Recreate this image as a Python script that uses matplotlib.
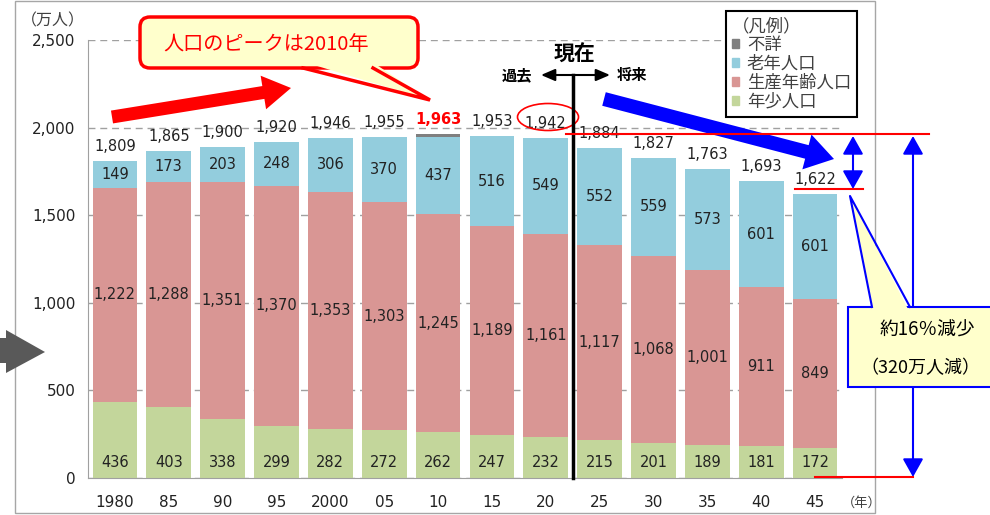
import matplotlib.pyplot as plt
from matplotlib.patches import Rectangle, Polygon, Ellipse, FancyBboxPatch, FancyArrow, Patch

plt.rcParams['font.family'] = ['DejaVu Sans', 'Noto Sans CJK JP']
JP = ['Noto Sans CJK JP', 'DejaVu Sans']

years = ['1980', '85', '90', '95', '2000', '05', '10', '15', '20', '25', '30', '35', '40', '45']
young = [436, 403, 338, 299, 282, 272, 262, 247, 232, 215, 201, 189, 181, 172]
working = [1222, 1288, 1351, 1370, 1353, 1303, 1245, 1189, 1161, 1117, 1068, 1001, 911, 849]
elderly = [149, 173, 203, 248, 306, 370, 437, 516, 549, 552, 559, 573, 601, 601]
unknown = [0, 0, 0, 0, 0, 0, 19, 0, 0, 0, 0, 0, 0, 0]
totals = [1809, 1865, 1900, 1920, 1946, 1955, 1963, 1953, 1942, 1884, 1827, 1763, 1693, 1622]

c_young = '#C3D69B'
c_work = '#D99694'
c_old = '#93CDDD'
c_unk = '#7F7F7F'

fig = plt.figure(figsize=(9.9, 5.15), dpi=100)
ax = fig.add_axes([88 / 990, 37 / 515, 754 / 990, 438 / 515])

x = list(range(len(years)))
w = 0.83
b1 = ax.bar(x, young, w, color=c_young)
b2 = ax.bar(x, working, w, bottom=young, color=c_work)
bot3 = [a + b for a, b in zip(young, working)]
b3 = ax.bar(x, elderly, w, bottom=bot3, color=c_old)
bot4 = [a + b for a, b in zip(bot3, elderly)]
b4 = ax.bar(x, unknown, w, bottom=bot4, color=c_unk)

ax.bar_label(b2, labels=[f'{v:,}' for v in working], label_type='center', fontsize=10.5, color='#222222')
ax.bar_label(b3, labels=[f'{v:,}' for v in elderly], label_type='center', fontsize=10.5, color='#222222')
for i, v in enumerate(young):
    ax.text(i, 88, f'{v:,}', ha='center', va='center', fontsize=10.5, color='#222222')
for i, t in enumerate(totals):
    red = years[i] == '10'
    ax.annotate(f'{t:,}', xy=(i, bot4[i] + unknown[i]), xytext=(0, 5), textcoords='offset points',
                ha='center', va='bottom', fontsize=10.5,
                color='red' if red else '#222222', fontweight='bold' if red else 'normal')

ax.set_xlim(-0.5, len(years) - 0.5)
ax.set_ylim(0, 2500)
ax.set_yticks([0, 500, 1000, 1500, 2000, 2500])
ax.set_yticklabels(['0', '500', '1,000', '1,500', '2,000', '2,500'])
ax.set_xticks(x)
ax.set_xticklabels(years)
ax.tick_params(length=0, labelsize=11, colors='#222222')
ax.tick_params(axis='y', pad=9)
ax.tick_params(axis='x', pad=12)
ax.yaxis.grid(True, ls=(0, (5, 3.5)), color='#A0A0A0', lw=1)
ax.set_axisbelow(True)
for s in ['top', 'right']:
    ax.spines[s].set_visible(False)
for s in ['left', 'bottom']:
    ax.spines[s].set_color('#A0A0A0')

handles = [Patch(color=c_unk), Patch(color=c_old), Patch(color=c_work), Patch(color=c_young)]
leg = ax.legend(handles, ['不詳', '老年人口', '生産年齢人口', '年少人口'], title='（凡例）',
                loc='upper left', bbox_to_anchor=(726 / 990, 1 - 11 / 515), bbox_transform=fig.transFigure,
                prop={'family': JP, 'size': 12.5}, title_fontproperties={'family': JP, 'size': 12.5},
                fancybox=False, edgecolor='black', framealpha=1, handlelength=0.4, handleheight=0.4,
                handletextpad=0.45, labelspacing=0.05, borderpad=0.35, borderaxespad=0,
                alignment='left', labelcolor='#404040')
leg.get_title().set_color('#404040')
leg.get_frame().set_linewidth(1.5)

# overlay in pixel coordinates for the annotations
ov = fig.add_axes([0, 0, 1, 1], zorder=5)
ov.set_xlim(0, 990)
ov.set_ylim(515, 0)
ov.axis('off')
ov.patch.set_visible(False)

ov.add_patch(Rectangle((15, 1), 860, 512, fill=False, ec='#A6A6A6', lw=1))
ov.add_patch(Polygon([(0, 338), (6, 338), (6, 330), (45, 352), (6, 373), (6, 363), (0, 363)],
                     closed=True, fc='#595959', ec='none'))

ov.text(53, 21, '（万人）', ha='center', va='center', fontsize=11.5, color='#404040', family=JP)
ov.text(842, 503, '（年）', ha='left', va='center', fontsize=9.5, color='#404040', family=JP)

# peak callout
ov.add_patch(FancyArrow(112, 117, 179, -29, width=13, head_width=34, head_length=28,
                        length_includes_head=True, fc='red', ec='none'))
ov.add_patch(FancyBboxPatch((150, 27), 258, 31, boxstyle='round,pad=10', fc='#FFFFCC', ec='red', lw=2.5, zorder=3))
ov.add_patch(Polygon([(304, 62), (372, 62), (430, 100)], closed=True, fc='#FFFFCC', ec='none', zorder=4))
ov.plot([303, 430, 373], [68, 100, 68], color='red', lw=2.5, zorder=5, solid_joinstyle='miter')
ov.text(266, 44, '人口のピークは2010年', ha='center', va='center', fontsize=14.5, color='red',
        family=['Noto Sans CJK JP'], zorder=6)

# now line
ov.plot([573, 573], [75, 478], color='black', lw=2.5)
ov.text(574, 54, '現在', ha='center', va='center', fontsize=15, fontweight='bold', family=JP)
ov.text(517, 75, '過去', ha='center', va='center', fontsize=11, fontweight='bold', family=JP)
ov.text(632, 75, '将来', ha='center', va='center', fontsize=11, fontweight='bold', family=JP)
ov.annotate('', xy=(541, 75), xytext=(610, 75),
            arrowprops=dict(arrowstyle='<|-|>,head_length=0.7,head_width=0.3', mutation_scale=12,
                            color='black', lw=1.5, shrinkA=0, shrinkB=0))
ov.add_patch(Ellipse((548, 117), 61, 27, fill=False, ec='red', lw=1.2))

# decline annotation
ov.add_patch(FancyArrow(604, 99, 230, 60, width=14, head_width=36, head_length=28,
                        length_includes_head=True, fc='blue', ec='none'))
ov.plot([566, 929], [134, 134], color='red', lw=1.5)
ov.plot([795, 863], [189, 189], color='red', lw=1.5)
ov.plot([815, 913], [477, 477], color='red', lw=1.5)
arr = dict(arrowstyle='<|-|>,head_length=0.8,head_width=0.45', mutation_scale=14,
           color='blue', lw=1.5, shrinkA=0, shrinkB=0)
ov.annotate('', xy=(853, 136), xytext=(853, 189), arrowprops=arr)
ov.annotate('', xy=(913, 136), xytext=(913, 477), arrowprops=arr)
ov.add_patch(Rectangle((848, 307), 150, 80, fc='#FFFFCC', ec='blue', lw=1.5, zorder=3))
ov.add_patch(Polygon([(873, 311), (909, 311), (850, 196)], closed=True, fc='#FFFFCC', ec='none', zorder=4))
ov.plot([872, 850, 910], [307, 196, 307], color='blue', lw=1.5, zorder=5)
ov.text(927, 330, '約16％減少', ha='center', va='center', fontsize=13.5, family=['Noto Sans CJK JP'], zorder=6)
ov.text(920, 368, '（320万人減）', ha='center', va='center', fontsize=13, family=['Noto Sans CJK JP'], zorder=6)

fig.savefig('out.png', dpi=100)
